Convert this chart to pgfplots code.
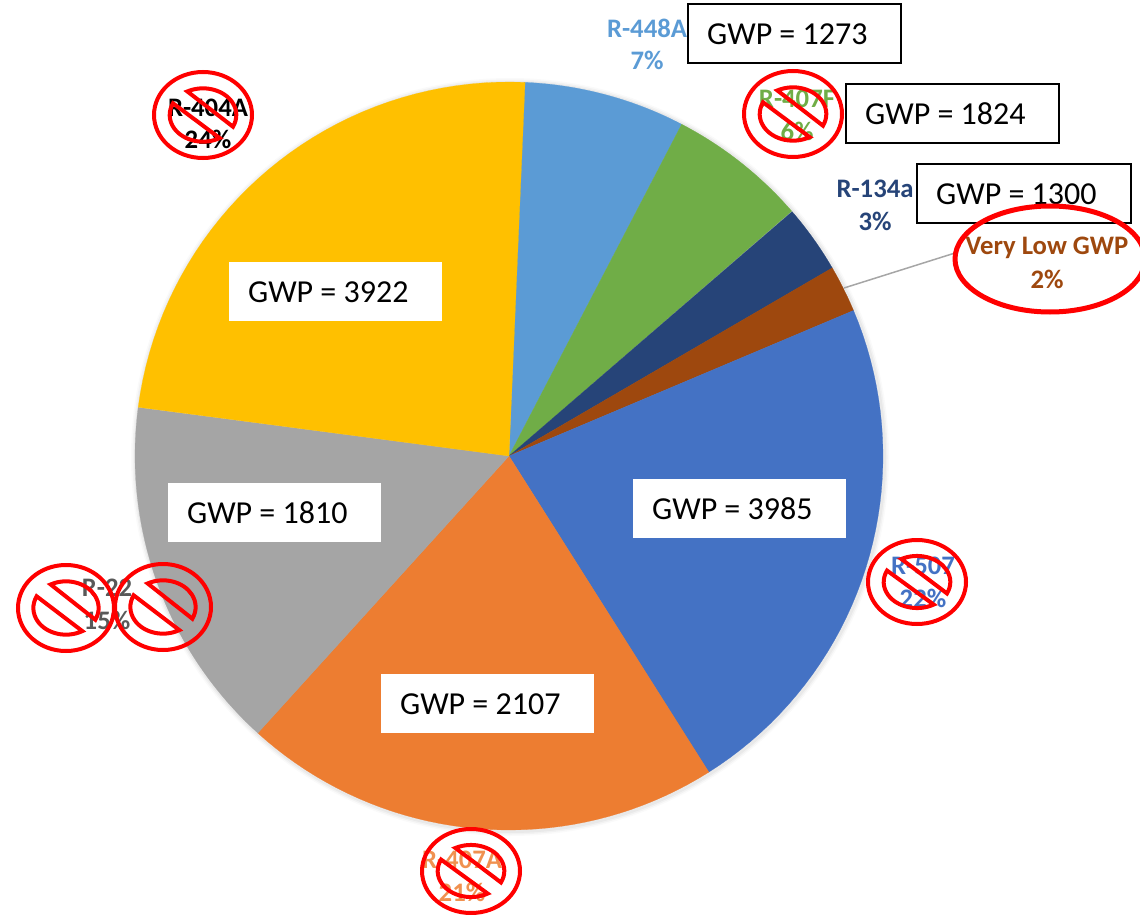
\documentclass[border=0pt]{standalone}
\usepackage{fontspec}
\setmainfont{Carlito}
\usepackage{etoolbox}
\usepackage{pgfplots}
\pgfplotsset{compat=1.18}
\definecolor{c448}{HTML}{5B9BD5}
\definecolor{c407f}{HTML}{70AD47}
\definecolor{c134}{HTML}{264478}
\definecolor{cvl}{HTML}{9E480E}
\definecolor{c507}{HTML}{4472C4}
\definecolor{c407a}{HTML}{ED7D31}
\definecolor{c22}{HTML}{A5A5A5}
\definecolor{c404}{HTML}{FFC000}
\definecolor{ringred}{HTML}{FF0000}
\newcommand\cx{509}
\newcommand\cy{456}
\newcommand\rr{374}
% slice: colour, start angle (deg clockwise from top), share in percent
\newcommand\slice[3]{%
  \gdef\coords{(\cx,\cy)}%
  \foreach \i in {0,...,40}{%
    \pgfmathsetmacro\ang{#2+3.6*#3*\i/40}%
    \pgfmathsetmacro\px{\cx+\rr*sin(\ang)}%
    \pgfmathsetmacro\py{\cy-\rr*cos(\ang)}%
    \xappto\coords{(\px,\py)}%
  }%
  \xappto\coords{(\cx,\cy)}%
  \edef\tmp{\noexpand\addplot[fill=#1,draw=#1,line width=0.2pt] coordinates {\coords};}%
  \tmp
}
\newcommand\nosign[4]{% cx cy rx ry
  \begin{scope}[shift={(axis cs:#1,#2)},x=1pt,y=-1pt,draw=ringred,line width=4pt]
    \draw (0,0) ellipse [x radius=#3, y radius=#4];
    \draw[line join=miter] ({0.68*#3*cos(-118)},{0.62*#4*sin(-118)}) arc[start angle=-118,end angle=26,x radius={0.68*#3},y radius={0.62*#4}] -- cycle;
    \draw[line join=miter] ({0.68*#3*cos(60)},{0.62*#4*sin(60)}) arc[start angle=60,end angle=206,x radius={0.68*#3},y radius={0.62*#4}] -- cycle;
  \end{scope}
}
\newcommand\gwpbox[5]{% x0 y0 x1 y1 text, white, no border
  \fill[white] (axis cs:#1,#2) rectangle (axis cs:#3,#4);
  \node[anchor=west,inner sep=0pt,font=\fontsize{32}{34}\selectfont] at (axis cs:#1+19,{(#2+#4)/2+0.5}) {#5};
}
\newcommand\gwpframe[5]{%
  \draw[black,fill=white,line width=1.6pt] (axis cs:#1,#2) rectangle (axis cs:#3,#4);
  \node[anchor=west,inner sep=0pt,font=\fontsize{32}{34}\selectfont] at (axis cs:#1+19,{(#2+#4)/2+0.5}) {#5};
}
\newcommand\lab[4]{% x y colour text
  \node[anchor=center,inner sep=0pt,text=#3,font=\bfseries\fontsize{26.7}{28}\selectfont] at (axis cs:#1,#2) {#4};
}
\begin{document}
\begin{tikzpicture}
\begin{axis}[
  scale only axis, width=1140pt, height=915pt,
  xmin=0, xmax=1140, ymin=0, ymax=915, y dir=reverse,
  axis lines=none, clip=false, ticks=none]
  % soft shadow
  \fill[black,opacity=0.02] (axis cs:510,457) circle [radius=379pt];
  \fill[black,opacity=0.03] (axis cs:510,457) circle [radius=377.5pt];
  \fill[black,opacity=0.04] (axis cs:510,457) circle [radius=376pt];
  \slice{c448}{2.3}{7.0}
  \slice{c407f}{27.5}{6.0}
  \slice{c134}{49.2}{2.95}
  \slice{cvl}{59.8}{2.03}
  \slice{c507}{67.1}{22.4}
  \slice{c407a}{147.7}{20.7}
  \slice{c22}{222.2}{15.35}
  \slice{c404}{277.5}{23.6}
  % leader
  \draw[black!35,line width=1.5pt] (axis cs:844,288) -- (axis cs:955,253);
  % boxes
  \gwpbox{229}{262}{442}{321}{GWP = 3922}
  \gwpbox{168}{483}{381}{542}{GWP = 1810}
  \gwpbox{381}{674}{594}{733}{GWP = 2107}
  \gwpbox{633}{479}{846}{538}{GWP = 3985}
  % labels
  \lab{647}{28}{c448}{R-448A}\lab{647}{60}{c448}{7\%}
  \lab{797}{99}{c407f}{R-407F}\lab{797}{131}{c407f}{6\%}
  \lab{875}{189}{c134}{R-134a}\lab{875}{221}{c134}{3\%}
  \lab{1047}{248}{cvl}{Very Low GWP}\lab{1047}{279}{cvl}{2\%}
  \lab{923}{566}{c507}{R-507}\lab{923}{598}{c507}{22\%}
  \lab{462}{860}{c407a!85!white}{R-407A}\lab{462}{892}{c407a!85!white}{21\%}
  \lab{107}{588}{black!65}{R-22}\lab{107}{620}{black!65}{15\%}
  \lab{208}{108}{black}{R-404A}\lab{208}{139}{black}{24\%}
  % framed
  \gwpframe{688}{4}{901}{63}{GWP = 1273}
  \gwpframe{846}{84}{1059}{143}{GWP = 1824}
  \gwpframe{917}{164}{1131}{223}{GWP = 1300}
  % red marks
  \nosign{203}{115}{49}{43}
  \nosign{793}{114}{49}{43}
  \nosign{66}{608}{48}{43}
  \nosign{163}{607}{48}{43}
  \nosign{917}{582}{49}{42}
  \nosign{471}{871}{49}{42}
  \draw[ringred,line width=5pt] (axis cs:1050,259) ellipse [x radius=95pt, y radius=53pt];
\end{axis}
\pgfresetboundingbox
\path[use as bounding box] (0,0) rectangle (1140pt,915pt);
\end{tikzpicture}
\end{document}
